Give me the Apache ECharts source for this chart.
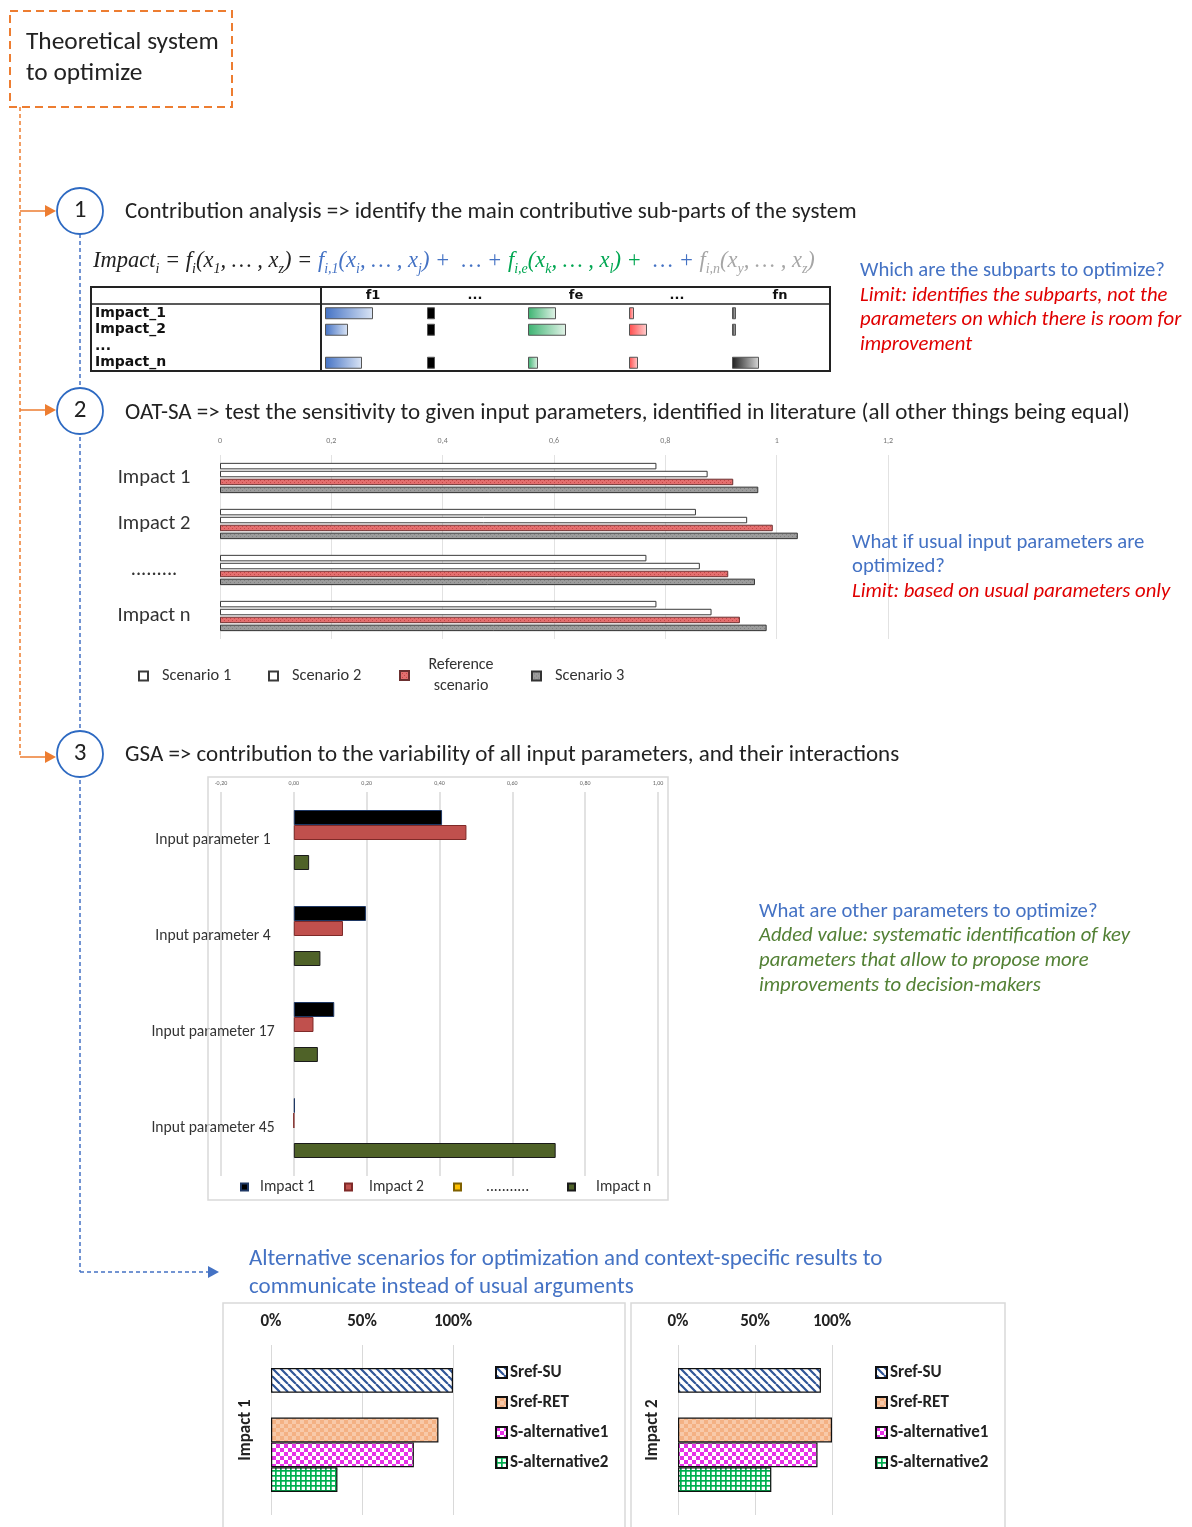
<!DOCTYPE html>
<html><head><meta charset="utf-8">
<script src="https://cdn.jsdelivr.net/npm/echarts@6/dist/echarts.min.js"></script>
<style>html,body{margin:0;padding:0;background:#fff}#c{width:1192px;height:1527px}</style>
</head><body><div id="c"></div>
<script>
// ---------------- DATA ----------------
const tableRows = ['Impact_1', 'Impact_2', '...', 'Impact_n'];
const tableCols = ['f1', '...', 'fe', '...', 'fn'];
const tableF1 = [0.48, 0.23, null, 0.37];
const tableDots1 = [0.08, 0.08, null, 0.08];
const tableFe = [0.28, 0.38, null, 0.10];
const tableDots2 = [0.05, 0.18, null, 0.09];
const tableFn = [0.04, 0.04, null, 0.27];

const oatCategories = ['Impact 1', 'Impact 2', '.........', 'Impact n'];
const oatScenario1 = [0.784, 0.855, 0.766, 0.784];
const oatScenario2 = [0.876, 0.947, 0.862, 0.883];
const oatReference = [0.922, 0.993, 0.913, 0.934];
const oatScenario3 = [0.967, 1.038, 0.961, 0.982];

const gsaCategories = ['Input parameter 1', 'Input parameter 4', 'Input parameter 17', 'Input parameter 45'];
const gsaImpact1 = [0.407, 0.198, 0.111, 0.003];
const gsaImpact2 = [0.474, 0.135, 0.054, 0];
const gsaImpactDots = [null, null, null, null];
const gsaImpactN = [0.042, 0.073, 0.066, 0.719];

const altNames = ['Sref-SU', 'Sref-RET', 'S-alternative1', 'S-alternative2'];
const altImpact1 = [1.0, 0.92, 0.785, 0.365];
const altImpact2 = [0.928, 1.0, 0.906, 0.606];

// ---------------- STYLE HELPERS ----------------
const FONT = 'Carlito, Lato, sans-serif';
const TFONT = 'DejaVu Sans, sans-serif';
const chart = echarts.init(document.getElementById('c'), null, {renderer: 'canvas', width: 1192, height: 1527});

function makePattern(size, draw) {
  const c = document.createElement('canvas');
  c.width = size; c.height = size;
  const g = c.getContext('2d');
  draw(g, size);
  return {image: c, repeat: 'repeat'};
}
const patSU = makePattern(8, (g, s) => {
  g.fillStyle = '#fff'; g.fillRect(0, 0, s, s);
  g.strokeStyle = '#2f5597'; g.lineWidth = 2.2; g.beginPath();
  [-s, 0, s].forEach(o => { g.moveTo(o, 0); g.lineTo(o + s, s); });
  g.stroke();
});
const patRET = makePattern(8, (g, s) => {
  g.fillStyle = '#f4b183'; g.fillRect(0, 0, s, s);
  g.fillStyle = '#f8c9a8'; g.fillRect(0, 0, 4, 4); g.fillRect(4, 4, 4, 4);
});
const patALT1 = makePattern(8, (g, s) => {
  g.fillStyle = '#fff'; g.fillRect(0, 0, s, s);
  g.fillStyle = '#e632e6'; g.fillRect(0, 0, 4, 4); g.fillRect(4, 4, 4, 4);
});
const patALT2 = makePattern(5, (g, s) => {
  g.fillStyle = '#fff'; g.fillRect(0, 0, s, s);
  g.fillStyle = '#00b050'; g.fillRect(0, 0, s, 1.7); g.fillRect(0, 0, 1.7, s);
});
const patRef = makePattern(4, (g, s) => {
  g.fillStyle = '#e46f6f'; g.fillRect(0, 0, s, s);
  g.fillStyle = '#c44848'; g.fillRect(0, 0, 1, 1); g.fillRect(2, 2, 1, 1);
});
const patS3 = makePattern(4, (g, s) => {
  g.fillStyle = '#9c9c9c'; g.fillRect(0, 0, s, s);
  g.fillStyle = '#808080'; g.fillRect(0, 0, 1, 1); g.fillRect(2, 2, 1, 1);
});
const grad = (a, b) => new echarts.graphic.LinearGradient(0, 0, 1, 0, [{offset: 0, color: a}, {offset: 1, color: b}]);

// ---------------- GRIDS / AXES ----------------
const tableLefts = [325, 427, 528, 629, 732];
const tableData = [tableF1, tableDots1, tableFe, tableDots2, tableFn];
const tableColors = [grad('#4472c4', '#dbe5f5'), '#000', grad('#3cb371', '#e3f3e8'), grad('#ff4b4b', '#ffd0d0'), grad('#1e1e1e', '#d8d8d8')];

const grids = [], xAxes = [], yAxes = [], series = [];
tableLefts.forEach((l, i) => {
  grids.push({left: l, top: 305, width: 100, height: 66});
  xAxes.push({gridIndex: i, type: 'value', min: 0, max: 1, show: false});
  yAxes.push({gridIndex: i, type: 'category', data: tableRows, inverse: true, show: i === 0,
    axisLine: {show: false}, axisTick: {show: false},
    axisLabel: {interval: 0, hideOverlap: false, align: 'left', margin: 230, fontSize: 14, fontWeight: 'bold', color: '#111', fontFamily: TFONT}});
  series.push({type: 'bar', name: 'table-' + i, xAxisIndex: i, yAxisIndex: i, data: tableData[i], barWidth: 12,
    silent: true, itemStyle: {color: tableColors[i], borderColor: '#555', borderWidth: 1}});
});

// OAT-SA grid (index 5)
grids.push({left: 220, top: 455, width: 668, height: 184});
xAxes.push({gridIndex: 5, type: 'value', min: 0, max: 1.2, interval: 0.2, position: 'top',
  axisLine: {show: false}, axisTick: {show: false},
  axisLabel: {fontSize: 8, color: '#777', margin: 10, fontFamily: FONT,
    formatter: v => String(Math.round(v * 10) / 10).replace('.', ',')},
  splitLine: {lineStyle: {color: '#e2e2e2', width: 1}}});
yAxes.push({gridIndex: 5, type: 'category', data: oatCategories, inverse: true,
  axisLine: {show: false}, axisTick: {show: false},
  axisLabel: {interval: 0, fontSize: 20.5, color: '#333', align: 'center', margin: 66, fontFamily: FONT}});
const oatCommon = {type: 'bar', xAxisIndex: 5, yAxisIndex: 5, barWidth: 6.5, barGap: '22%'};
series.push(Object.assign({name: 'Scenario 1', data: oatScenario1, itemStyle: {color: '#fff', borderColor: '#3a3a3a', borderWidth: 1}}, oatCommon));
series.push(Object.assign({name: 'Scenario 2', data: oatScenario2, itemStyle: {color: '#fff', borderColor: '#3a3a3a', borderWidth: 1}}, oatCommon));
series.push(Object.assign({name: 'Reference scenario', data: oatReference, itemStyle: {color: patRef, borderColor: '#6b3030', borderWidth: 1}}, oatCommon));
series.push(Object.assign({name: 'Scenario 3', data: oatScenario3, itemStyle: {color: patS3, borderColor: '#333', borderWidth: 1}}, oatCommon));

// GSA grid (index 6)
grids.push({left: 221, top: 792, width: 437, height: 384});
xAxes.push({gridIndex: 6, type: 'value', min: -0.2, max: 1.0, interval: 0.2, position: 'top',
  axisLine: {show: false}, axisTick: {show: false},
  axisLabel: {fontSize: 6, color: '#666', margin: 6, fontFamily: FONT,
    formatter: v => (Math.round(v * 100) / 100).toFixed(2).replace('.', ',')},
  splitLine: {lineStyle: {color: '#d9d9d9', width: 1.5}}});
yAxes.push({gridIndex: 6, type: 'category', data: gsaCategories, inverse: true,
  axisLine: {show: false}, axisTick: {show: false},
  axisLabel: {interval: 0, fontSize: 15.6, color: '#333', align: 'center', margin: 8, fontFamily: FONT}});
const gsaCommon = {type: 'bar', xAxisIndex: 6, yAxisIndex: 6, barWidth: 15, barGap: '0%'};
series.push(Object.assign({name: 'Impact 1', data: gsaImpact1, itemStyle: {color: '#000', borderColor: '#1f3864', borderWidth: 1}}, gsaCommon));
series.push(Object.assign({name: 'Impact 2', data: gsaImpact2, itemStyle: {color: '#c0504d', borderColor: '#7f2a28', borderWidth: 1}}, gsaCommon));
series.push(Object.assign({name: '...........', data: gsaImpactDots, itemStyle: {color: '#ffc000', borderColor: '#7f6000', borderWidth: 1}}, gsaCommon));
series.push(Object.assign({name: 'Impact n', data: gsaImpactN, itemStyle: {color: '#4f6228', borderColor: '#1a1a1a', borderWidth: 1}}, gsaCommon));

// Alternative scenario grids (7, 8)
const altPatterns = [patSU, patRET, patALT1, patALT2];
[[271, 182, 'Impact 1', altImpact1], [678, 154, 'Impact 2', altImpact2]].forEach(([left, width, cat, vals], k) => {
  const gi = 7 + k;
  grids.push({left: left, top: 1345, width: width, height: 170});
  xAxes.push({gridIndex: gi, type: 'value', min: 0, max: 1, interval: 0.5, position: 'top',
    axisLine: {show: false}, axisTick: {show: false},
    axisLabel: {fontSize: 17, fontWeight: 'bold', color: '#222', margin: 15, fontFamily: FONT,
      formatter: v => Math.round(v * 100) + '%'},
    splitLine: {lineStyle: {color: '#d9d9d9', width: 1}}});
  yAxes.push({gridIndex: gi, type: 'category', data: [cat],
    axisLine: {show: false}, axisTick: {show: false},
    axisLabel: {rotate: 90, margin: 17, fontSize: 17, fontWeight: 'bold', color: '#222', fontFamily: FONT}});
  const common = {type: 'bar', xAxisIndex: gi, yAxisIndex: gi, barWidth: 24.8, barGap: '0%'};
  series.push(Object.assign({name: altNames[0], data: [vals[0]], itemStyle: {color: altPatterns[0], borderColor: '#111', borderWidth: 1.2}}, common));
  series.push(Object.assign({name: 'spacer-' + k, data: [null], silent: true, itemStyle: {color: 'transparent'}}, common));
  for (let j = 1; j < 4; j++) {
    series.push(Object.assign({name: altNames[j], data: [vals[j]], itemStyle: {color: altPatterns[j], borderColor: '#111', borderWidth: 1.2}}, common));
  }
});

// ---------------- LEGENDS ----------------
const oatLeg = (name, left, top, extra) => Object.assign({data: [name], left: left, top: top, padding: 0,
  itemWidth: 9, itemHeight: 9, icon: 'rect', selectedMode: false,
  textStyle: {fontSize: 16.4, color: '#333', fontFamily: FONT, padding: [0, 0, 0, 9]}}, extra || {});
const gsaLeg = (name, left, pad) => ({data: [name], left: left, top: 1179, padding: 0,
  itemWidth: 7, itemHeight: 7, icon: 'rect', selectedMode: false,
  textStyle: {fontSize: 15.5, color: '#333', fontFamily: FONT, padding: [0, 0, 0, pad]}});
const altLeg = left => ({data: altNames, orient: 'vertical', left: left, top: 1364, padding: 0,
  itemWidth: 11, itemHeight: 11, itemGap: 13, icon: 'rect', selectedMode: false,
  textStyle: {fontSize: 17, fontWeight: 'bold', color: '#222', fontFamily: FONT, padding: [0, 0, 0, -2]}});
const legends = [
  oatLeg('Scenario 1', 138, 668),
  oatLeg('Scenario 2', 268, 668),
  oatLeg('Reference scenario', 399, 657, {formatter: () => '{a|Reference}\n{a|scenario}',
    textStyle: {fontSize: 16, color: '#333', fontFamily: FONT, padding: [0, 0, 0, 4],
      rich: {a: {width: 86, align: 'center', fontSize: 16, lineHeight: 21, color: '#333', fontFamily: FONT}}}}),
  oatLeg('Scenario 3', 531, 668),
  gsaLeg('Impact 1', 240, 7),
  gsaLeg('Impact 2', 344, 12),
  gsaLeg('...........', 453, 20),
  gsaLeg('Impact n', 567, 16),
  altLeg(495),
  altLeg(875)
];

// ---------------- GRAPHIC (frame, arrows, texts) ----------------
const ORANGE = '#ed7d31', BLUE = '#4472c4', CIRCLE = '#2e6ac2';
const txt = (x, y, text, o) => ({type: 'text', x: x, y: y, z: 20,
  style: Object.assign({text: text, fill: '#222', fontSize: 23, fontFamily: FONT, verticalAlign: 'middle', align: 'left'}, o || {})});
const line = (x1, y1, x2, y2, o) => ({type: 'line', shape: {x1: x1, y1: y1, x2: x2, y2: y2}, z: 5,
  style: Object.assign({stroke: '#000', lineWidth: 1.5}, o || {})});
const arrowHead = (tipX, y, color) => ({type: 'polygon', z: 6,
  shape: {points: [[tipX - 11, y - 6], [tipX, y], [tipX - 11, y + 6]]}, style: {fill: color}});
const circle = (cy, label) => [
  {type: 'circle', z: 10, shape: {cx: 80, cy: cy, r: 23}, style: {fill: '#fff', stroke: CIRCLE, lineWidth: 1.8}},
  {type: 'text', z: 11, x: 80, y: cy, style: {text: label, fontSize: 25, fill: '#222', fontFamily: FONT, align: 'center', verticalAlign: 'middle'}}
];

const EQF = 22.5, EQS = 14;
const mk = (fill, sub) => ({fontSize: sub ? EQS : EQF, fontFamily: 'Liberation Serif', fontStyle: 'italic', fill: fill,
  lineHeight: sub ? 17 : 30, verticalAlign: sub ? 'bottom' : 'middle'});
const eqRich = {
  k: mk('#222'), ks: mk('#222', 1),
  b: mk('#4472c4'), bs: mk('#4472c4', 1),
  g: mk('#00a651'), gs: mk('#00a651', 1),
  r: mk('#a6a6a6'), rs: mk('#a6a6a6', 1)
};
const eqText = '{k|Impact}{ks|i}{k| = f}{ks|i}{k|(x}{ks|1}{k|, … , x}{ks|z}{k|) = }' +
  '{b|f}{bs|i,1}{b|(x}{bs|i}{b|, … , x}{bs|j}{b|) +  … + }' +
  '{g|f}{gs|i,e}{g|(x}{gs|k}{g|, … , x}{gs|l}{g|) +  }' +
  '{b|… + }{r|f}{rs|i,n}{r|(x}{rs|y}{r|, … , x}{rs|z}{r|)}';

const NOTE = 20.7;
const graphics = [
  // top frame
  {type: 'rect', z: 5, shape: {x: 10, y: 11, width: 222, height: 96}, style: {fill: 'none', stroke: ORANGE, lineWidth: 2, lineDash: [8, 5]}},
  txt(26, 43, 'Theoretical system', {fontSize: 25.4}),
  txt(26, 74, 'to optimize', {fontSize: 25.4}),
  // orange flow
  line(20, 107, 20, 757, {stroke: ORANGE, lineDash: [4, 3]}),
  line(20, 211, 46, 211, {stroke: ORANGE}), arrowHead(56, 211, ORANGE),
  line(20, 410, 46, 410, {stroke: ORANGE}), arrowHead(56, 410, ORANGE),
  line(20, 757, 46, 757, {stroke: ORANGE}), arrowHead(56, 757, ORANGE),
  // blue flow
  line(80, 234, 80, 1272, {stroke: BLUE, lineDash: [4, 3]}),
  line(80, 1272, 208, 1272, {stroke: BLUE, lineDash: [4, 3]}), arrowHead(219, 1272, BLUE),
  ...circle(211, '1'), ...circle(411, '2'), ...circle(754, '3'),
  // step titles
  txt(125, 212, 'Contribution analysis => identify the main contributive sub-parts of the system'),
  txt(125, 413, 'OAT-SA => test the sensitivity to given input parameters, identified in literature (all other things being equal)'),
  txt(125, 755, 'GSA => contribution to the variability of all input parameters, and their interactions'),
  // equation
  {type: 'text', z: 20, x: 93, y: 261, style: {text: eqText, rich: eqRich, verticalAlign: 'middle', align: 'left'}},
  // table frame
  {type: 'rect', z: 5, shape: {x: 91, y: 287, width: 739, height: 84}, style: {fill: 'none', stroke: '#222', lineWidth: 2}},
  line(91, 304, 830, 304, {stroke: '#222', lineWidth: 1.5}),
  line(321, 287, 321, 371, {stroke: '#222', lineWidth: 2}),
  ...tableCols.map((c, i) => txt(tableLefts[i] + 48, 296, c, {fontSize: 13, fontWeight: 'bold', align: 'center', fill: '#111', fontFamily: TFONT})),
  // right notes 1
  txt(860, 271, 'Which are the subparts to optimize?', {fill: '#4472c4', fontSize: NOTE}),
  txt(860, 296, 'Limit: identifies the subparts, not the', {fill: '#e00000', fontSize: NOTE, fontStyle: 'italic'}),
  txt(860, 320, 'parameters on which there is room for', {fill: '#e00000', fontSize: NOTE, fontStyle: 'italic'}),
  txt(860, 345, 'improvement', {fill: '#e00000', fontSize: NOTE, fontStyle: 'italic'}),
  // right notes 2
  txt(852, 543, 'What if usual input parameters are', {fill: '#4472c4', fontSize: NOTE}),
  txt(852, 567, 'optimized?', {fill: '#4472c4', fontSize: NOTE}),
  txt(852, 592, 'Limit: based on usual parameters only', {fill: '#e00000', fontSize: NOTE, fontStyle: 'italic'}),
  // GSA frame
  {type: 'rect', z: 1, shape: {x: 208, y: 777, width: 460, height: 423}, style: {fill: 'none', stroke: '#d9d9d9', lineWidth: 1.5}},
  // right notes 3
  txt(759, 912, 'What are other parameters to optimize?', {fill: '#4472c4', fontSize: NOTE}),
  txt(759, 936, 'Added value: systematic identification of key', {fill: '#538135', fontSize: NOTE, fontStyle: 'italic'}),
  txt(759, 961, 'parameters that allow to propose more', {fill: '#538135', fontSize: NOTE, fontStyle: 'italic'}),
  txt(759, 986, 'improvements to decision-makers', {fill: '#538135', fontSize: NOTE, fontStyle: 'italic'}),
  // bottom title
  txt(249, 1259, 'Alternative scenarios for optimization and context-specific results to', {fill: '#4472c4', fontSize: 23}),
  txt(249, 1287, 'communicate instead of usual arguments', {fill: '#4472c4', fontSize: 23}),
  // bottom frames
  {type: 'rect', z: 1, shape: {x: 223, y: 1303, width: 402, height: 230}, style: {fill: 'none', stroke: '#d9d9d9', lineWidth: 1.5}},
  {type: 'rect', z: 1, shape: {x: 631, y: 1303, width: 374, height: 230}, style: {fill: 'none', stroke: '#d9d9d9', lineWidth: 1.5}}
];

chart.setOption({
  animation: false,
  backgroundColor: '#fff',
  grid: grids, xAxis: xAxes, yAxis: yAxes, series: series,
  legend: legends,
  graphic: {elements: graphics}
});
</script></body></html>
